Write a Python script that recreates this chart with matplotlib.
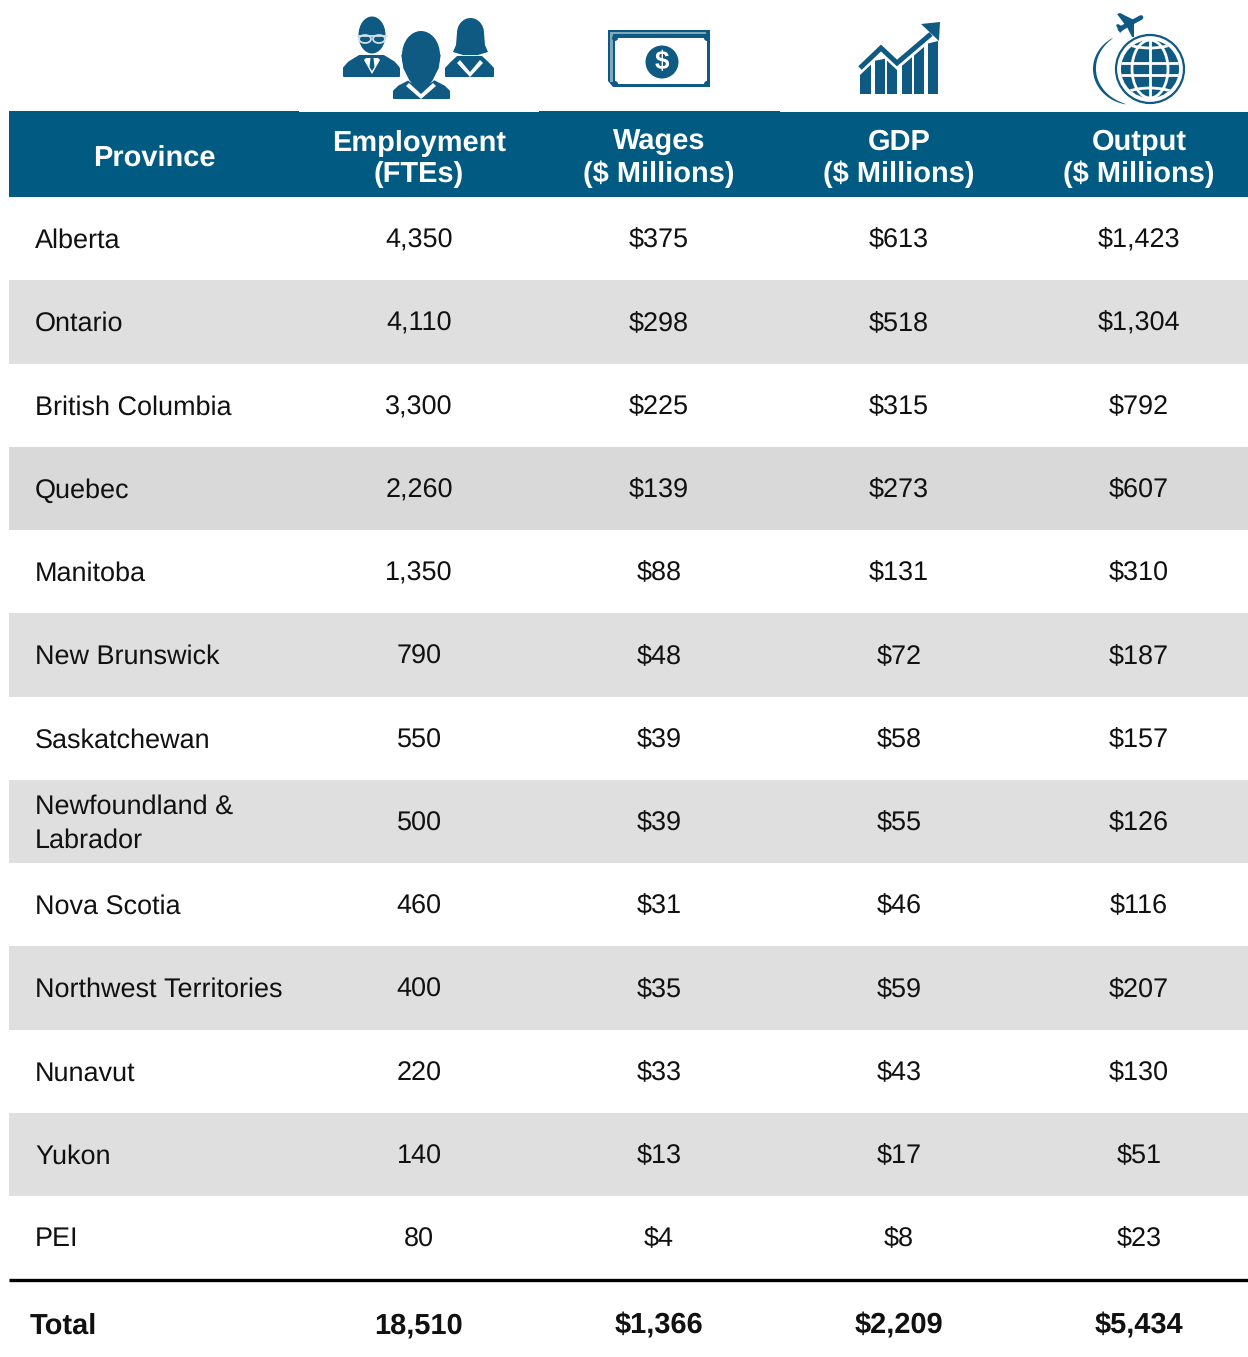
import numpy as np
import matplotlib
matplotlib.use('Agg')
import matplotlib.pyplot as plt
from matplotlib.patches import Rectangle, Circle, Ellipse, Polygon, Arc

provinces = ['Alberta', 'Ontario', 'British Columbia', 'Quebec', 'Manitoba', 'New Brunswick',
             'Saskatchewan', 'Newfoundland &\nLabrador', 'Nova Scotia', 'Northwest Territories',
             'Nunavut', 'Yukon', 'PEI']
employment = ['4,350', '4,110', '3,300', '2,260', '1,350', '790', '550', '500', '460', '400', '220', '140', '80']
wages = ['$375', '$298', '$225', '$139', '$88', '$48', '$39', '$39', '$31', '$35', '$33', '$13', '$4']
gdp = ['$613', '$518', '$315', '$273', '$131', '$72', '$58', '$55', '$46', '$59', '$43', '$17', '$8']
output = ['$1,423', '$1,304', '$792', '$607', '$310', '$187', '$157', '$126', '$116', '$207', '$130', '$51', '$23']
headers = ['Employment\n(FTEs)', 'Wages\n($ Millions)', 'GDP\n($ Millions)', 'Output\n($ Millions)']
totals = ['18,510', '$1,366', '$2,209', '$5,434']

BLUE = '#005a82'
ICON = '#0f5a82'
LIGHT = '#7fa8bd'
GREY = '#dfdfdf'
INK = '#111111'
col_x = [419, 659, 899, 1139]
row_edges = [197, 280, 364, 447, 530, 613, 697, 780, 863, 946, 1030, 1113, 1196, 1279]

plt.rcParams['font.family'] = ['Liberation Sans', 'DejaVu Sans']
plt.rcParams['text.hinting'] = 'no_hinting'
plt.rcParams['text.hinting_factor'] = 1
fig = plt.figure(figsize=(12.48, 13.57), dpi=100)
ax = fig.add_axes([0, 0, 1, 1])
ax.set_xlim(0, 1248)
ax.set_ylim(1357, 0)
ax.axis('off')

# header band
ax.add_patch(Rectangle((9, 112), 1239, 85, color=BLUE, lw=0))
ax.add_patch(Rectangle((9, 111), 290, 1, color=BLUE, lw=0))
ax.add_patch(Rectangle((539, 111), 241, 1, color=BLUE, lw=0))
ax.text(154, 166, 'Province', color='white', fontsize=21.1, fontweight='bold', ha='center', va='baseline')
for x, h in zip(col_x, headers):
    ax.text(x, 182, h, color='white', fontsize=21.1, fontweight='bold', ha='center', va='baseline', linespacing=1.2)

# body rows
for i in range(len(provinces)):
    top, bot = row_edges[i], row_edges[i + 1]
    base = (top + bot) / 2 + 9
    if i % 2 == 1:
        ax.add_patch(Rectangle((9, top), 1239, bot - top, color=GREY, lw=0))
    if provinces[i] == 'Quebec':
        ax.add_patch(Rectangle((9, top), 1239, bot - top, color='#d9d9d9', lw=0))
    name_y = base + 17.5 if '\n' in provinces[i] else base
    ax.text(35, name_y, provinces[i], color=INK, fontsize=19.4, ha='left', va='baseline', linespacing=1.46)
    for x, col in zip(col_x, [employment, wages, gdp, output]):
        ax.text(x, base, col[i], color=INK, fontsize=19.4, ha='center', va='baseline')

# total row
ax.plot([9, 1248], [1280, 1280], color='black', lw=2.4, solid_capstyle='butt')
ax.text(30, 1334, 'Total', color=INK, fontsize=21, fontweight='bold', ha='left', va='baseline')
for x, t in zip(col_x, totals):
    ax.text(x, 1334, t, color=INK, fontsize=21, fontweight='bold', ha='center', va='baseline')


# icons, hand drawn from simple shapes
def fill(points, color=ICON, lw=0.0):
    ax.add_patch(Polygon(points, fc=color, ec=color, lw=lw, joinstyle='round'))


def shoulders(xl, xr, ytop, ybot):
    cx = (xl + xr) / 2
    h = ybot - ytop
    fill([[xl, ybot], [xl, ybot - h * 0.4], [xl + 5, ybot - h * 0.68], [cx - 12, ytop],
          [cx + 12, ytop], [xr - 5, ybot - h * 0.68], [xr, ybot - h * 0.4], [xr, ybot]], lw=1.5)


def collar(cx, ytop, ybot, half):
    fill([[cx - half, ytop], [cx, ybot], [cx + half, ytop], [cx + half - 3, ytop - 3],
          [cx, ybot - 5], [cx - half + 3, ytop - 3]], color='white')


# man with glasses
shoulders(344, 399, 56, 76)
ax.add_patch(Ellipse((372, 35), 27, 37, color=ICON, lw=0))
fill([[366, 58], [378, 58], [380, 60], [372, 74], [364, 60]], color='white')
fill([[370.5, 58], [373.5, 58], [374.5, 67], [372, 71], [369.5, 67]])
ax.plot([358, 387], [35.5, 35.5], color='#cfe0e8', lw=1.3)
for gl in (365, 379):
    ax.add_patch(Ellipse((gl, 39), 12, 8, fc=ICON, ec='#cfe0e8', lw=1.3))

# woman
shoulders(446, 493, 57, 76)
ax.add_patch(Ellipse((470.5, 33), 27, 30, color=ICON, lw=0))
fill([[457, 33], [484, 33], [485, 45], [488, 52], [478, 55], [463, 55], [453, 52], [456, 45]])
collar(470, 63, 77, 13)

# man in front
shoulders(394, 449, 81, 98)
ax.add_patch(Ellipse((421, 57), 44, 55, fc='none', ec='white', lw=1.5))
ax.add_patch(Ellipse((421, 55), 38, 48, color=ICON, lw=0))
fill([[402, 55], [440, 55], [438, 68], [432, 80], [427, 86], [415, 86], [410, 80], [404, 68]], lw=1)
collar(421, 86, 99, 15)

# banknote
ax.add_patch(Rectangle((608, 30), 102, 57, color=ICON, lw=0))
ax.add_patch(Rectangle((610, 32), 3, 50, color=LIGHT, lw=0))
ax.add_patch(Rectangle((610, 31.5), 96, 2, color=LIGHT, lw=0))
ax.add_patch(Rectangle((615, 38), 92, 46, color='white', lw=0))
for cx, cy in [(615, 38), (707, 38), (615, 84), (707, 84)]:
    ax.add_patch(Circle((cx, cy), 3, color=ICON, lw=0))
fill([[608, 81], [608, 87], [613, 87]], color='white')
ax.add_patch(Circle((662, 62), 16.5, color=ICON, lw=0))
ax.text(662, 69, '$', color='white', fontsize=19, fontweight='bold', ha='center', va='baseline')

# growth chart
line_x = [860, 881, 897, 931]
line_y = [68, 48, 63, 34]
bar_l = [860, 875, 887, 902, 914, 928]
bar_r = [871, 885, 897, 912, 924, 938]
for l, r in zip(bar_l, bar_r):
    fill([[l, 94], [l, np.interp(l, line_x, line_y) + 7], [r, np.interp(r, line_x, line_y) + 7], [r, 94]])
ax.plot(line_x, line_y, color=ICON, lw=3.6, solid_capstyle='butt', solid_joinstyle='miter')
fill([[921, 24], [940, 22], [939, 41]])

# globe
gx, gy = 1150, 69
globe = Circle((gx, gy), 34, fc='white', ec=ICON, lw=1.6)
ax.add_patch(globe)
disc = Circle((gx, gy), 29, color=ICON, lw=0)
ax.add_patch(disc)
grid = [ax.plot([gx - 30, gx + 30], [gy - 6, gy - 6], color='white', lw=2)[0],
        ax.plot([gx - 30, gx + 30], [gy + 6, gy + 6], color='white', lw=2)[0],
        ax.plot([gx, gx], [gy - 30, gy + 30], color='white', lw=2)[0]]
for g in grid:
    g.set_clip_path(disc)
ax.add_patch(Ellipse((gx, gy), 36, 58, fc='none', ec='white', lw=2))
for arc in (Arc((gx, gy - 33), 62, 24, theta1=0, theta2=180, color='white', lw=2),
            Arc((gx, gy + 31), 62, 24, theta1=180, theta2=360, color='white', lw=2)):
    ax.add_patch(arc)
    arc.set_clip_path(disc)

# swoosh round the globe
t = np.radians(np.linspace(240, 100, 60))
s = np.linspace(0, 1, 60)
thick = 3 * np.sin(np.pi * s) ** 0.6
outer = np.column_stack([1133 + 40 * np.cos(t), 69 + 36 * np.sin(t)])
inner = np.column_stack([1133 + (40 - thick) * np.cos(t), 69 + (36 - thick) * np.sin(t)])
fill(np.vstack([outer, inner[::-1]]))

# plane
ax.plot([1120, 1141], [29, 17.5], color=ICON, lw=3.4, solid_capstyle='round')
fill([[1117, 14], [1120, 13], [1134, 20], [1126, 26]])
fill([[1127, 27], [1134, 22], [1134, 37], [1132, 37]])
fill([[1116, 25], [1118, 24], [1125, 28], [1120, 33]])

fig.savefig('out.png', dpi=100, facecolor='white')
